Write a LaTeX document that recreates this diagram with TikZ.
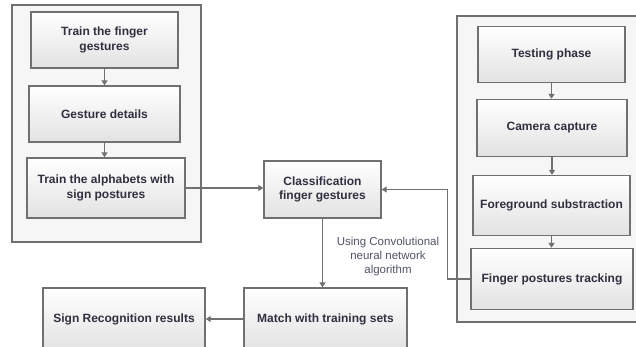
\documentclass[tikz,border=0pt]{standalone}
\usepackage{fontspec}
\setmainfont{Liberation Sans}
\usetikzlibrary{arrows.meta}
\definecolor{edgecol}{RGB}{112,112,112}
\definecolor{txtcol}{RGB}{48,48,64}
\definecolor{lblcol}{RGB}{80,84,100}
\definecolor{boxbot}{RGB}{226,226,226}
\definecolor{contfill}{RGB}{246,246,246}
\tikzset{
  stepbox/.style={draw=edgecol, line width=1.4pt, top color=white, bottom color=boxbot,
    text=txtcol, font=\fontsize{12}{14.5}\selectfont\bfseries, align=center, inner sep=2pt},
  container/.style={draw=edgecol, line width=1.2pt, fill=contfill},
  conn/.style={draw=edgecol, line width=1.6pt, -{Triangle[width=6pt,length=5pt]}},
}
\begin{document}
\begin{tikzpicture}[x=1pt,y=-1pt]
\useasboundingbox (0,0) rectangle (636,347);
\clip (0,0) rectangle (636,347);
% containers
\draw[container] (12,5) rectangle (201,242);
\draw[container] (457,16) rectangle (660,322);
% left column
\node[stepbox, minimum width=147pt, minimum height=56pt] (b1) at (104.5,40) {Train the finger\\gestures};
\node[stepbox, minimum width=151pt, minimum height=56pt] (b2) at (104.5,114) {Gesture details};
\node[stepbox, minimum width=158pt, minimum height=60pt] (b3) at (106,188) {Train the alphabets with\\sign postures};
% middle
\node[stepbox, minimum width=117pt, minimum height=57pt] (cl) at (322.5,189.5) {Classification\\finger gestures};
\node[stepbox, minimum width=163pt, minimum height=62pt] (ma) at (325.5,319) {Match with training sets};
\node[stepbox, minimum width=162pt, minimum height=62pt] (si) at (124,319) {Sign Recognition results};
% right column
\node[stepbox, minimum width=147pt, minimum height=56pt] (r1) at (551.5,54.5) {Testing phase};
\node[stepbox, minimum width=150pt, minimum height=57pt] (r2) at (552,128) {Camera capture};
\node[stepbox, minimum width=157pt, minimum height=60pt] (r3) at (551.5,205.5) {Foreground substraction};
\node[stepbox, minimum width=162pt, minimum height=61pt] (r4) at (552,279) {Finger postures tracking};
% label
\node[text=lblcol, font=\fontsize{11.5}{14}\selectfont, align=center] (lbl) at (388,257) {Using Convolutional\\neural network\\algorithm};
% connectors
\draw[conn] (b1.south) -- (b1.south |- b2.north);
\draw[conn] (b2.south) -- (b2.south |- b3.north);
\draw[conn] (b3.east) -- (b3.east -| cl.west);
\draw[conn] (r1.south) -- (r1.south |- r2.north);
\draw[conn] (r2.south) -- (r2.south |- r3.north);
\draw[conn] (r3.south) -- (r3.south |- r4.north);
\draw[conn] (r4.west) -- ++(-23,0) |- (cl.east);
\draw[conn] (cl.south) -- (cl.south |- ma.north);
\draw[conn] (ma.west) -- (si.east);
\end{tikzpicture}
\end{document}
